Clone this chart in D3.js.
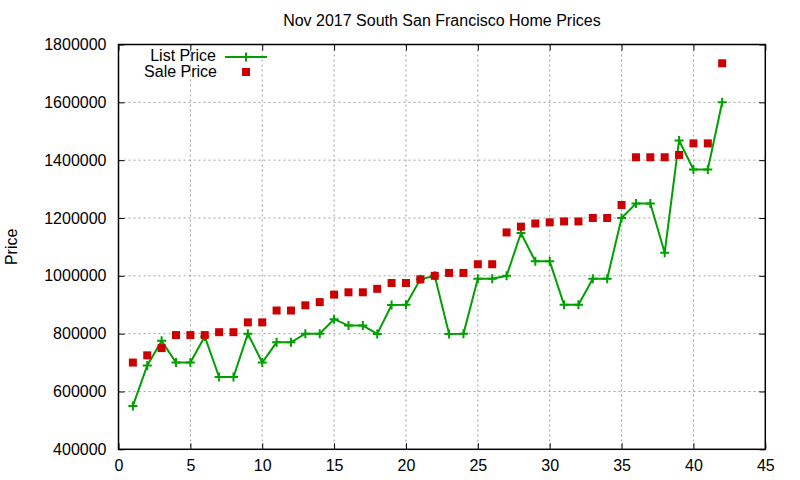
<!DOCTYPE html>
<html>
<head>
<meta charset="utf-8">
<script src="https://cdn.jsdelivr.net/npm/d3@7"></script>
<style>
  body { margin: 0; background: #fff; }
  text { font-family: "Liberation Sans", Arial, sans-serif; fill: #000; }
</style>
</head>
<body>
<div id="chart"></div>
<script>
// Home index (x) for each sale
const homes = d3.range(1, 43);
const listPrices = [550000, 690000, 775000, 700000, 700000, 790000, 650000, 650000, 800000, 700000,
  770000, 770000, 800000, 800000, 850000, 828000, 828000, 799000, 899000, 900000,
  988000, 1000000, 799000, 800000, 990000, 990000, 1000000, 1148000, 1050000, 1050000,
  900000, 900000, 990000, 990000, 1200000, 1250000, 1250000, 1080000, 1468000, 1368000,
  1368000, 1600000];
const salePrices = [700000, 725000, 750000, 795000, 795000, 795000, 805000, 805000, 839000, 839000,
  880000, 880000, 898000, 909000, 935000, 943000, 943000, 955000, 975000, 975000,
  988000, 1000000, 1010000, 1010000, 1040000, 1040000, 1150000, 1170000, 1181000, 1185000,
  1188000, 1188000, 1200000, 1200000, 1245000, 1410000, 1410000, 1410000, 1418000, 1458000,
  1458000, 1735000];
const xTicks = [0, 5, 10, 15, 20, 25, 30, 35, 40, 45];
const yTicks = [400000, 600000, 800000, 1000000, 1200000, 1400000, 1600000, 1800000];

(function() {
    const W = 800, H = 480;
    const margin = { top: 44.5, right: 34.7, bottom: 30.7, left: 118.5 };
    const width = W - margin.left - margin.right;
    const height = H - margin.top - margin.bottom;
    const green = "#00a000", red = "#cc0000";

    const data = homes.map((h, i) => ({ x: h, list: listPrices[i], sale: salePrices[i] }));

    const x = d3.scaleLinear().domain([0, 45]).range([0, width]);
    const y = d3.scaleLinear().domain([400000, 1800000]).range([height, 0]);

    const svg = d3.select("#chart").append("svg")
        .attr("width", W)
        .attr("height", H);

    svg.append("text")
        .attr("x", margin.left + width / 2)
        .attr("y", 26)
        .attr("text-anchor", "middle")
        .style("font-size", "16px")
        .text("Nov 2017 South San Francisco Home Prices");

    svg.append("text")
        .attr("transform", "translate(17," + (margin.top + height / 2) + ") rotate(-90)")
        .attr("text-anchor", "middle")
        .style("font-size", "16px")
        .text("Price");

    const g = svg.append("g")
        .attr("transform", "translate(" + margin.left + "," + margin.top + ")");

    // grid
    g.append("g").selectAll("line")
        .data(xTicks.slice(1, -1))
        .join("line")
        .attr("x1", d => x(d)).attr("x2", d => x(d))
        .attr("y1", 0).attr("y2", height)
        .attr("stroke", "#a0a0a0")
        .attr("stroke-dasharray", "2,3");
    g.append("g").selectAll("line")
        .data(yTicks.slice(1, -1))
        .join("line")
        .attr("y1", d => y(d)).attr("y2", d => y(d))
        .attr("x1", 0).attr("x2", width)
        .attr("stroke", "#a0a0a0")
        .attr("stroke-dasharray", "2,3");

    // axes (gnuplot style: inward ticks on all sides)
    const axB = g.append("g").attr("transform", "translate(0," + height + ")")
        .call(d3.axisBottom(x).tickValues(xTicks).tickSize(-6).tickPadding(10));
    const axT = g.append("g")
        .call(d3.axisTop(x).tickValues(xTicks).tickSize(-6).tickFormat(""));
    const axL = g.append("g")
        .call(d3.axisLeft(y).tickValues(yTicks).tickSize(-6).tickPadding(12).tickFormat(d3.format("d")));
    const axR = g.append("g").attr("transform", "translate(" + width + ",0)")
        .call(d3.axisRight(y).tickValues(yTicks).tickSize(-6).tickFormat(""));
    [axB, axT, axL, axR].forEach(a => {
        a.select(".domain").remove();
        a.selectAll("line").attr("stroke", "#000");
        a.selectAll("text").style("font-size", "16px").style("font-family", "Liberation Sans, Arial, sans-serif");
    });

    g.append("rect")
        .attr("width", width).attr("height", height)
        .attr("fill", "none").attr("stroke", "#000").attr("stroke-width", 1.5);

    // list price line
    const line = d3.line().x(d => x(d.x)).y(d => y(d.list));
    g.append("path")
        .datum(data)
        .attr("fill", "none")
        .attr("stroke", green)
        .attr("stroke-width", 2)
        .attr("d", line);

    g.selectAll(".lp")
        .data(data)
        .join("path")
        .attr("class", "lp")
        .attr("transform", d => "translate(" + x(d.x) + "," + y(d.list) + ")")
        .attr("d", "M-4.5,0H4.5M0,-4.5V4.5")
        .attr("stroke", green)
        .attr("stroke-width", 2);

    // sale price squares
    g.selectAll(".sp")
        .data(data)
        .join("rect")
        .attr("class", "sp")
        .attr("x", d => x(d.x) - 4)
        .attr("y", d => y(d.sale) - 4)
        .attr("width", 8).attr("height", 8)
        .attr("fill", red);

    // legend
    const lg = svg.append("g");
    lg.append("text").attr("x", 216).attr("y", 61).attr("text-anchor", "end")
        .style("font-size", "16px").text("List Price");
    lg.append("line").attr("x1", 225).attr("x2", 267).attr("y1", 57).attr("y2", 57)
        .attr("stroke", green).attr("stroke-width", 2);
    lg.append("path").attr("transform", "translate(246,57)")
        .attr("d", "M-4.5,0H4.5M0,-4.5V4.5")
        .attr("stroke", green).attr("stroke-width", 2);
    lg.append("text").attr("x", 217).attr("y", 77).attr("text-anchor", "end")
        .style("font-size", "16px").text("Sale Price");
    lg.append("rect").attr("x", 242).attr("y", 68).attr("width", 8).attr("height", 8)
        .attr("fill", red);
})();
</script>
</body>
</html>
